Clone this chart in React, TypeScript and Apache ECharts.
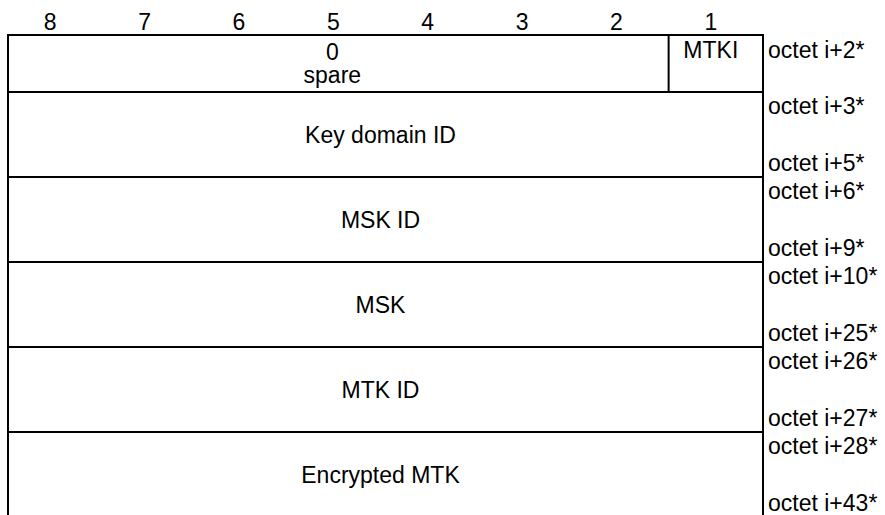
import React, { useEffect, useRef } from "react";
import * as echarts from "echarts";

// ---- data ----
const BIT_LABELS = ["8", "7", "6", "5", "4", "3", "2", "1"];
const HEADER_VALUE = "0";
const HEADER_FIELD = "spare";
const HEADER_FLAG = "MTKI";
const HEADER_OCTET = "octet i+2*";
const FIELD_NAMES = ["Key domain ID", "MSK ID", "MSK", "MTK ID", "Encrypted MTK"];
const FIRST_OCTETS = ["octet i+3*", "octet i+6*", "octet i+10*", "octet i+26*", "octet i+28*"];
const LAST_OCTETS = ["octet i+5*", "octet i+9*", "octet i+25*", "octet i+27*", "octet i+43*"];

// ---- layout ----
const W = 885;
const H = 515;
const GRID_LEFT = 8;
const GRID_TOP = 35;
const GRID_RIGHT = 122;
const HEADER_H = 57;
const ROW_H = 85;
const FONT = 23;
const FAMILY = "'Liberation Sans', Arial, Helvetica, sans-serif";
const TEXT_DX = -5;

export default function App() {
  const ref = useRef<HTMLDivElement>(null);

  useEffect(() => {
    if (!ref.current) return;
    document.body.style.margin = "0";
    const chart = echarts.init(ref.current, undefined, { renderer: "svg" });

    const txt = (x: number, y: number, text: string, align = "center", lineHeight = 26) => ({
      type: "text",
      x,
      y,
      silent: true,
      style: {
        text,
        fill: "#000",
        fontSize: FONT,
        fontFamily: FAMILY,
        lineHeight,
        align,
        verticalAlign: "middle",
      },
    });
    const ln = (x1: number, y1: number, x2: number, y2: number) => ({
      type: "line",
      silent: true,
      shape: { x1, y1, x2, y2 },
      style: { stroke: "#000", lineWidth: 2 },
    });

    const rows = [{ kind: "header" }, ...FIELD_NAMES.map((_, i) => ({ kind: "field", i }))];

    const renderItem = (params: any, api: any) => {
      const idx = params.dataIndex;
      const top = idx === 0 ? 0 : HEADER_H + (idx - 1) * ROW_H;
      const bottom = idx === 0 ? HEADER_H : top + ROW_H;
      const [xl, yt] = api.coord([0, top]);
      const [xr, yb] = api.coord([8, bottom]);
      const children: any[] = [];
      children.push(ln(xl, yt, xr, yt));
      children.push(ln(xl, yb, xr, yb));
      children.push(ln(xl, yt - 1, xl, yb + 1));
      children.push(ln(xr, yt - 1, xr, yb + 1));
      const octX = xr + 5;
      if (idx === 0) {
        const [xd] = api.coord([7, 0]);
        children.push(ln(xd, yt, xd, yb));
        BIT_LABELS.forEach((b, k) => {
          const [bx] = api.coord([k + 0.5, 0]);
          children.push(txt(bx + TEXT_DX, yt - 13, b));
        });
        const [cx] = api.coord([3.5, 0]);
        const mid = (yt + yb) / 2;
        children.push(txt(cx - 6, mid, `${HEADER_VALUE}\n${HEADER_FIELD}`, "center", 23));
        const [fx] = api.coord([7.5, 0]);
        children.push(txt(fx - 5, yt + 15, HEADER_FLAG));
        children.push(txt(octX, yt + 15, HEADER_OCTET, "left"));
      } else {
        const i = idx - 1;
        const [cx] = api.coord([4, 0]);
        children.push(txt(cx + TEXT_DX, (yt + yb) / 2, FIELD_NAMES[i]));
        children.push(txt(octX, yt + 14, FIRST_OCTETS[i], "left"));
        children.push(txt(octX, yb - 14, LAST_OCTETS[i], "left"));
      }
      return { type: "group", children };
    };

    chart.setOption({
      animation: false,
      tooltip: { show: false },
      grid: { left: GRID_LEFT, top: GRID_TOP, right: GRID_RIGHT, bottom: 0 },
      xAxis: { type: "value", min: 0, max: 8, show: false },
      yAxis: { type: "value", min: 0, max: H - GRID_TOP, inverse: true, show: false },
      series: [
        {
          type: "custom",
          silent: true,
          clip: false,
          renderItem,
          data: rows.map((_, i) => [i]),
        },
      ],
    });

    return () => chart.dispose();
  }, []);

  return <div ref={ref} style={{ width: W, height: H, background: "#fff" }} />;
}
